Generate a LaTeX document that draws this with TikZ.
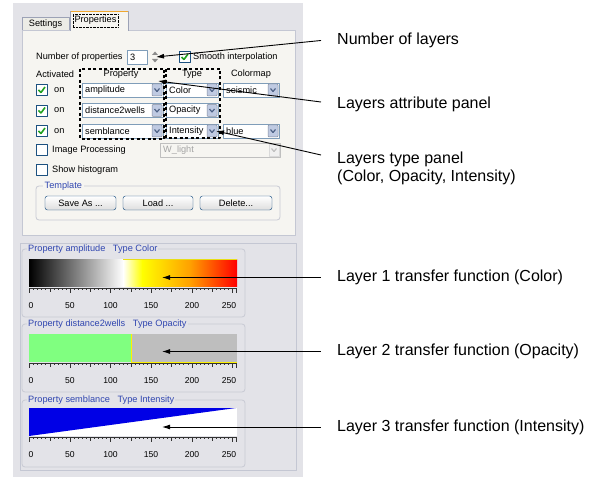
\documentclass[tikz,border=0pt]{standalone}
\usepackage{fontspec}
\setmainfont{Liberation Sans}
\usetikzlibrary{arrows.meta}
\definecolor{winbg}{HTML}{E3E3E8}
\definecolor{tabbg}{HTML}{F6F5F1}
\definecolor{tabgray}{HTML}{ECECE6}
\definecolor{tabline}{HTML}{9CA2B6}
\definecolor{tabhot}{HTML}{F0A830}
\definecolor{grpline}{HTML}{C8CAD4}
\definecolor{grptitle}{HTML}{3046B0}
\definecolor{cmbline}{HTML}{7F9DB9}
\definecolor{cmbbtn}{HTML}{BFCAE2}
\definecolor{chevcol}{HTML}{4D6185}
\definecolor{chkline}{HTML}{1C5180}
\definecolor{chkgreen}{HTML}{21A121}
\definecolor{btnline}{HTML}{003C74}
\definecolor{cbor}{HTML}{FFA000}
\definecolor{opgreen}{HTML}{80FF80}
\definecolor{opgray}{HTML}{BEBEBE}
\definecolor{intblue}{HTML}{0000E6}
\definecolor{offtext}{HTML}{A4A4A4}
\begin{document}
\begin{tikzpicture}[x=1bp,y=-1bp,>={Latex[length=8bp,width=5bp]},line join=bevel,
  guitext/.style={inner sep=0pt,font=\fontsize{9.2bp}{11bp}\selectfont},
  ticktext/.style={inner sep=0pt,font=\fontsize{8.6bp}{10bp}\selectfont},
  bigtext/.style={inner sep=0pt,anchor=west,align=left,font=\fontsize{16bp}{18.5bp}\selectfont},
  combo/.style={draw=cmbline,fill=white,line width=0.8bp},
  cmbbtnbox/.style={draw=cmbbtn!70!black,fill=cmbbtn,rounded corners=1bp,line width=0.5bp},
  chev/.style={draw=chevcol,line width=1.2bp},
  chkbox/.style={draw=chkline,fill=white,line width=0.8bp},
  chkmark/.style={draw=chkgreen,line width=1.6bp},
  dashbox/.style={draw=black,line width=1.2bp,dash pattern=on 3bp off 2.5bp},
  grpbox/.style={draw=grpline,rounded corners=3bp,line width=0.8bp},
  btn/.style={draw=btnline,rounded corners=2.5bp,top color=white,bottom color=black!13,
    minimum width=71bp,minimum height=14bp,inner sep=0pt,font=\fontsize{9.2bp}{11bp}\selectfont},
  axis/.style={draw=black!80,line width=0.7bp},
  note/.style={<-,draw=black,line width=0.9bp}]
    %%
    \fill[white] (0,0) rectangle (600,477);
    \useasboundingbox (0,0) rectangle (600,477);
    \fill[winbg] (13,3) rectangle (303,477);
    %% tab panel
    \filldraw[fill=tabbg,draw=tabline!60,line width=0.8bp] (22,30) rectangle (295,235);
    \filldraw[fill=tabgray,draw=tabline,line width=0.8bp] (22,30) -- (22,17) -- (69,17) -- (69,30);
    \filldraw[fill=tabbg,draw=tabline,line width=0.8bp] (70,31) -- (70,11) -- (128,11) -- (128,31);
    \draw[tabhot,line width=1.6bp] (70.5,11.5) -- (127.5,11.5);
    \node (settab) at (45.5,24) [guitext] {Settings};
    \node (proptab) at (95.5,20.5) [guitext,draw,densely dotted,inner xsep=1.5bp,inner ysep=2bp] {Properties};
    %% number of properties
    \node (nprop) at (36,57) [guitext,anchor=west] {Number of properties};
    \draw[combo] (127,50) rectangle (147,64);
    \node (nval) at (130,57) [guitext,anchor=west] {3};
    \fill[black!45] (152,55) -- (155,51.5) -- (158,55) -- cycle;
    \fill[black!45] (152,59) -- (155,62.5) -- (158,59) -- cycle;
    \draw[chkbox] (179,51.5) rectangle (190,62.5);
    \draw[chkmark] (181.5,57) -- (184,59.5) -- (188,54);
    \node (smooth) at (193,57) [guitext,anchor=west] {Smooth interpolation};
    %% column heads
    \node (hact) at (36,74) [guitext,anchor=west] {Activated};
    \node (hprop) at (121,74) [guitext] {Property};
    \node (htype) at (192,74) [guitext] {Type};
    \node (hcmap) at (251,74) [guitext] {Colormap};
    %% rows
    \foreach \yc/\nm in {90/a1,110.5/a2,131/a3}{
      \draw[chkbox] (36,\yc-5.5) rectangle (47,\yc+5.5);
      \draw[chkmark] (38.5,\yc) -- (41,\yc+2.5) -- (45,\yc-3);
      \node (on\nm) at (54,\yc) [guitext,anchor=west] {on};
    }
    \foreach \xa/\xb/\yc/\txt/\nm in {82/163/90/amplitude/p1,82/163/110.5/distance2wells/p2,
        82/163/131/semblance/p3,166/218/90/Color/t1,166/218/110.5/Opacity/t2,
        166/218/131/Intensity/t3,223/279/90/seismic/c1,223/279/131/blue/c3}{
      \draw[combo] (\xa,\yc-7) rectangle (\xb,\yc+7);
      \draw[cmbbtnbox] (\xb-11,\yc-6) rectangle (\xb-1,\yc+6);
      \draw[chev] (\xb-8.5,\yc-1.5) -- (\xb-6,\yc+1.5) -- (\xb-3.5,\yc-1.5);
      \node (\nm) at (\xa+3,\yc) [guitext,anchor=west] {\txt};
    }
    \draw[dashbox] (80,69) rectangle (164,139);
    \draw[dashbox] (166,69) rectangle (220,138);
    %% image processing, histogram
    \draw[chkbox] (36,144.5) rectangle (47,155.5);
    \node (improc) at (52,150) [guitext,anchor=west] {Image Processing};
    \draw[draw=black!25,fill=tabbg] (160,143) rectangle (280,157);
    \draw[draw=black!15,fill=black!6] (269,144) rectangle (279,156);
    \draw[draw=black!25,line width=1.2bp] (271.5,148.5) -- (274,151.5) -- (276.5,148.5);
    \node (wlight) at (163,150) [guitext,anchor=west,text=offtext] {W\_light};
    \draw[chkbox] (36,164.5) rectangle (47,175.5);
    \node (hist) at (52,170) [guitext,anchor=west] {Show histogram};
    %% template
    \draw[grpbox] (36,186) rectangle (280,220);
    \node (tmpl) at (43,186) [guitext,anchor=west,fill=tabbg,text=grptitle,inner xsep=1.5bp] {Template};
    \node (saveas) at (80.5,203) [btn] {Save As ...};
    \node (load) at (158,203) [btn,minimum width=70bp] {Load ...};
    \node (delete) at (236,203) [btn,minimum width=72bp] {Delete...};
    %% transfer functions
    \draw[fill=winbg,draw=tabline!60,line width=0.8bp] (20.5,243) rectangle (296,470);
    \draw[grpbox] (22,249) rectangle (245,317);
    \draw[grpbox] (22,324) rectangle (245,392);
    \draw[grpbox] (22,400) rectangle (245,467);
    \node (g1) at (27,249) [guitext,anchor=west,fill=winbg,text=grptitle,inner xsep=1bp] {Property amplitude\hspace{5bp} Type Color};
    \node (g2) at (27,324) [guitext,anchor=west,fill=winbg,text=grptitle,inner xsep=1bp] {Property distance2wells\hspace{5bp} Type Opacity};
    \node (g3) at (27,400) [guitext,anchor=west,fill=winbg,text=grptitle,inner xsep=1bp] {Property semblance\hspace{5bp} Type Intensity};
    \shade[left color=black,right color=white] (29,259) rectangle (123.3,286);
    \shade[left color=white,right color=yellow] (123,259) rectangle (142.3,286);
    \shade[left color=yellow,right color=cbor] (142,259) rectangle (190.3,286);
    \shade[left color=cbor,right color=red] (190,259) rectangle (237,286);
    \draw[yellow!90!black,line width=0.6bp] (123,259.3) -- (237,259.3);
    \fill[opgreen] (29,334) rectangle (131,362);
    \fill[opgray] (131,334) rectangle (237,362);
    \draw[yellow,line width=0.9bp] (131,334) -- (131,362) -- (237,362);
    \fill[white] (29,408) rectangle (237,436);
    \fill[intblue] (29,408) -- (236,408) -- (29,436) -- cycle;
    \foreach \ya/\nm in {288/a,363/b,437/c}{
      \draw[axis] (29.5,\ya) -- (236.5,\ya);
      \foreach \v in {0,5,...,255}
        \draw[axis,line width=0.5bp] (29.5+\v*0.8118,\ya) -- ++(0,2);
      \foreach \v in {25,75,...,225}
        \draw[axis,line width=0.5bp] (29.5+\v*0.8118,\ya) -- ++(0,3.5);
      \foreach \v in {0,50,...,250,255}
        \draw[axis,line width=0.6bp] (29.5+\v*0.8118,\ya) -- ++(0,5);
      \foreach \v/\xl in {0/31,50/70,100/110.5,150/151,200/192,250/229}
        \node (l\nm\v) at (\xl,\ya+17.5) [ticktext] {\v};
    }
    %% notes
    \coordinate (tipnum) at (156,57);
    \coordinate (tipatt) at (158,81);
    \coordinate (tiptype) at (216,131);
    \coordinate (tipcol) at (162,277.5);
    \coordinate (tipop) at (162,351.5);
    \coordinate (tipint) at (162,427);
    \node (nlayers) at (337,40.5) [bigtext] {Number of layers};
    \node (attpanel) at (337,104) [bigtext] {Layers attribute panel};
    \node (typepanel) at (337,168.3) [bigtext] {Layers type panel\\(Color, Opacity, Intensity)};
    \node (tf1) at (337,277.5) [bigtext] {Layer 1 transfer function (Color)};
    \node (tf2) at (337,351.5) [bigtext] {Layer 2 transfer function (Opacity)};
    \node (tf3) at (337,427) [bigtext] {Layer 3 transfer function (Intensity)};
    \draw[note] (tipnum) -- ([xshift=-16bp]nlayers.west);
    \draw[note] (tipatt) -- ([xshift=-16bp,yshift=2bp]attpanel.west);
    \draw[note] (tiptype) -- ([xshift=-16bp,yshift=13.3bp]typepanel.west);
    \draw[note] (tipcol) -- ([xshift=-16bp]tf1.west);
    \draw[note] (tipop) -- ([xshift=-16bp]tf2.west);
    \draw[note] (tipint) -- ([xshift=-16bp]tf3.west);
    %
\end{tikzpicture}
\end{document}
